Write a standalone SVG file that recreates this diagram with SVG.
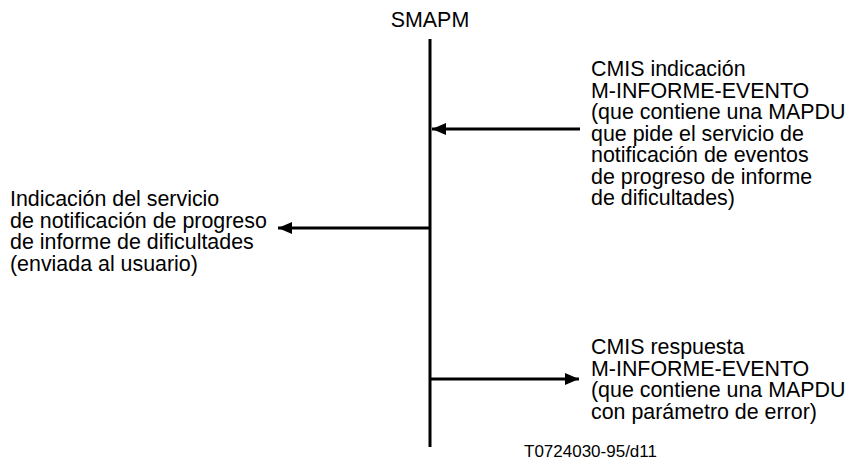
<svg xmlns="http://www.w3.org/2000/svg" width="849" height="464" viewBox="0 0 849 464">
<style>
text{font-family:"Liberation Sans",Arial,sans-serif;font-size:21.4px;fill:#000}
.ln{stroke:#000;stroke-width:3;fill:none}
.ref{font-size:17px}
</style>
<defs>
<marker id="ah" markerWidth="14" markerHeight="12" refX="14" refY="6" orient="auto" markerUnits="userSpaceOnUse">
<path d="M0,0 L14,6 L0,12 Z" fill="#000"/>
</marker>
</defs>
<rect width="849" height="464" fill="#fff"/>
<g id="smapm">
<text x="430" y="27" text-anchor="middle">SMAPM</text>
<line class="ln" x1="430" y1="39" x2="430" y2="447"/>
</g>
<g id="connectors">
<line class="ln" x1="580" y1="129" x2="432" y2="129" marker-end="url(#ah)"/>
<line class="ln" x1="430" y1="228" x2="278" y2="228" marker-end="url(#ah)"/>
<line class="ln" x1="430" y1="379" x2="579" y2="379" marker-end="url(#ah)"/>
</g>
<g id="msg1">
<text x="591"><tspan x="591" y="76">CMIS indicación</tspan><tspan x="591" y="97.5">M-INFORME-EVENTO</tspan><tspan x="591" y="119">(que contiene una MAPDU</tspan><tspan x="591" y="140.5">que pide el servicio de</tspan><tspan x="591" y="162">notificación de eventos</tspan><tspan x="591" y="183.5">de progreso de informe</tspan><tspan x="591" y="205">de dificultades)</tspan></text>
</g>
<g id="msg2">
<text x="10"><tspan x="10" y="206">Indicación del servicio</tspan><tspan x="10" y="227.5">de notificación de progreso</tspan><tspan x="10" y="249">de informe de dificultades</tspan><tspan x="10" y="270.5">(enviada al usuario)</tspan></text>
</g>
<g id="msg3">
<text x="591"><tspan x="591" y="354">CMIS respuesta</tspan><tspan x="591" y="375.5">M-INFORME-EVENTO</tspan><tspan x="591" y="397">(que contiene una MAPDU</tspan><tspan x="591" y="418.5">con parámetro de error)</tspan></text>
</g>
<g id="label">
<text class="ref" x="524" y="457">T0724030-95/d11</text>
</g>
</svg>
